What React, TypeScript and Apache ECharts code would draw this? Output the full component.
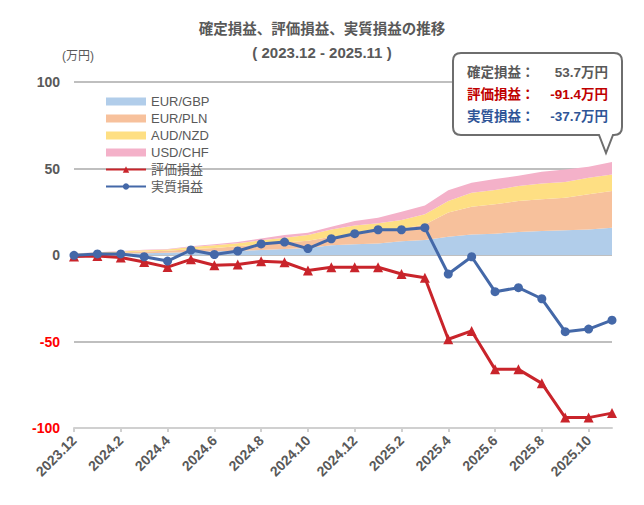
import {useEffect, useRef} from "react";
import * as echarts from "echarts";

const months = [
    "2023.12", "2024.1", "2024.2", "2024.3", "2024.4", "2024.5", "2024.6", "2024.7", "2024.8", "2024.9", "2024.10", "2024.11",
    "2024.12", "2025.1", "2025.2", "2025.3", "2025.4", "2025.5", "2025.6", "2025.7", "2025.8", "2025.9", "2025.10", "2025.11",
];

// 確定損益 (通貨ペア別, 積み上げ)
const eurGbp = [0.3, 0.5, 0.8, 1.0, 1.3, 1.7, 2.1, 2.5, 2.9, 3.4, 4.0, 5.6, 6.2, 6.7, 7.9, 8.7, 10.6, 11.8, 12.3, 13.3, 13.9, 14.3, 14.8, 15.8];
const eurPln = [0.2, 0.5, 0.7, 1.0, 1.2, 1.6, 2.0, 2.5, 3.2, 3.8, 4.2, 5.0, 5.7, 7.2, 7.3, 9.0, 13.9, 16.1, 17.0, 17.9, 18.3, 18.8, 20.3, 21.2];
const audNzd = [0.2, 0.4, 0.5, 0.7, 0.7, 1.3, 1.5, 1.8, 2.4, 2.8, 3.4, 4.2, 5.2, 4.4, 5.0, 5.8, 6.7, 8.1, 8.3, 8.7, 9.2, 9.1, 9.6, 9.6];
const usdChf = [0.1, 0.2, 0.3, 0.3, 0.3, 0.5, 0.6, 0.7, 1.1, 1.5, 1.2, 1.6, 2.5, 3.3, 4.8, 5.1, 6.2, 5.8, 6.3, 5.9, 6.7, 7.2, 6.3, 7.1];

const hyoka = [-0.8, -0.6, -1.5, -4.0, -7.0, -2.5, -5.9, -5.5, -3.6, -4.2, -9.0, -7.1, -7.1, -7.1, -11.0, -13.1, -48.7, -43.9, -66.1, -66.1, -74.2, -94.0, -94.0, -91.4];
const jisshitsu = [-0.2, 0.6, 0.6, -1.0, -3.5, 2.9, 0.3, 2.3, 6.4, 7.5, 3.7, 9.4, 12.3, 14.6, 14.6, 15.8, -11.0, -1.0, -21.2, -18.9, -25.3, -44.3, -42.8, -37.7];

const FONT = "'Liberation Sans', 'Noto Sans CJK JP', sans-serif";
const GRAY = "#595959";

const areas = [
    {name: "EUR/GBP", data: eurGbp, color: "#b1cdea"},
    {name: "EUR/PLN", data: eurPln, color: "#f7c19c"},
    {name: "AUD/NZD", data: audNzd, color: "#fedf83"},
    {name: "USD/CHF", data: usdChf, color: "#f4b1c9"},
];

echarts.graphic.registerShape("callout", echarts.graphic.extendPath(
    "M 461 53 H 614 Q 622 53 622 61 V 127 Q 622 135 614 135 H 613 L 606 153 L 599 135 H 461 Q 453 135 453 127 V 61 Q 453 53 461 53 Z",
    {}
));

const last = (arr: number[]) => arr[arr.length - 1];
const fmt = (v: number) => v.toFixed(1) + "万円";

export default function App() {
    const domRef = useRef<HTMLDivElement>(null);

    useEffect(() => {
        document.body.style.margin = "0";
        if (!domRef.current) return;
        const chart = echarts.init(domRef.current, null, {renderer: "svg"});

        const kakutei = areas.reduce((s, a) => s + last(a.data), 0);
        const boxLines = [
            {label: "確定損益：", value: fmt(kakutei), color: GRAY, y: 72},
            {label: "評価損益：", value: fmt(last(hyoka)), color: "#c00000", y: 94},
            {label: "実質損益：", value: fmt(last(jisshitsu)), color: "#2f5597", y: 116},
        ];

        chart.setOption({
            animation: false,
            textStyle: {fontFamily: FONT},
            title: {
                text: "確定損益、評価損益、実質損益の推移",
                subtext: "( 2023.12 - 2025.11 )",
                left: "center",
                top: 17,
                itemGap: 9,
                textStyle: {fontSize: 14.5, fontWeight: "bold", color: GRAY, fontFamily: FONT},
                subtextStyle: {fontSize: 15, fontWeight: "bold", color: GRAY, fontFamily: FONT},
            },
            legend: {
                orient: "vertical",
                left: 100,
                top: 90,
                itemWidth: 40,
                itemHeight: 8,
                itemGap: 4,
                textStyle: {fontSize: 13, color: GRAY, lineHeight: 13, fontFamily: FONT},
                data: [
                    ...areas.map(a => ({name: a.name, icon: "rect"})),
                    "評価損益",
                    "実質損益",
                ],
            },
            grid: {left: 74, right: 32, top: 82, bottom: 77},
            xAxis: [
                {
                    type: "category",
                    data: months,
                    boundaryGap: false,
                    axisLine: {show: false},
                    axisTick: {show: false},
                    axisLabel: {
                        interval: 1,
                        rotate: 45,
                        margin: 10,
                        fontSize: 14,
                        fontWeight: "bold",
                        color: GRAY,
                        fontFamily: FONT,
                    },
                },
                {
                    type: "category",
                    data: months,
                    boundaryGap: false,
                    position: "bottom",
                    axisLine: {show: true, onZero: true, lineStyle: {color: "#d0d0d0", width: 2}},
                    axisTick: {show: true, interval: 1, length: 4, lineStyle: {color: "#d0d0d0", width: 2}},
                    axisLabel: {show: false},
                },
            ],
            yAxis: {
                type: "value",
                min: -100,
                max: 100,
                interval: 50,
                name: "(万円)",
                nameLocation: "end",
                nameGap: 20,
                nameTextStyle: {fontSize: 12, color: GRAY, fontFamily: FONT, align: "left", padding: [0, 0, 0, -12]},
                axisLine: {show: false},
                axisTick: {show: false},
                axisLabel: {
                    margin: 14,
                    fontSize: 14,
                    fontWeight: "bold",
                    fontFamily: FONT,
                    color: (v: any) => (Number(v) < 0 ? "#ff0000" : GRAY),
                },
                splitLine: {lineStyle: {color: "#bfbfbf", width: 2}},
            },
            series: [
                ...areas.map(a => ({
                    name: a.name,
                    type: "line",
                    stack: "kakutei",
                    data: a.data,
                    symbol: "none",
                    lineStyle: {width: 0},
                    itemStyle: {color: a.color},
                    areaStyle: {color: a.color, opacity: 1},
                })),
                {
                    name: "評価損益",
                    type: "line",
                    data: hyoka,
                    symbol: "triangle",
                    symbolSize: 10,
                    itemStyle: {color: "#c9242b"},
                    lineStyle: {color: "#c9242b", width: 3},
                },
                {
                    name: "実質損益",
                    type: "line",
                    data: jisshitsu,
                    symbol: "circle",
                    symbolSize: 9,
                    itemStyle: {color: "#4468a8"},
                    lineStyle: {color: "#4468a8", width: 3},
                },
            ],
            graphic: [
                {
                    type: "callout",
                    x: 0,
                    y: 0,
                    z: 100,
                    style: {fill: "#ffffff", stroke: "#6e6e6e", lineWidth: 2},
                },
                ...boxLines.flatMap(l => [
                    {
                        type: "text",
                        x: 467,
                        y: l.y,
                        z: 101,
                        style: {text: l.label, fill: l.color, fontSize: 13.5, fontWeight: "bold", fontFamily: FONT, align: "left", verticalAlign: "middle"},
                    },
                    {
                        type: "text",
                        x: 608,
                        y: l.y,
                        z: 101,
                        style: {text: l.value, fill: l.color, fontSize: 13.5, fontWeight: "bold", fontFamily: FONT, align: "right", verticalAlign: "middle"},
                    },
                ]),
            ],
        });

        return () => {
            chart.dispose();
        };
    }, []);

    return <div ref={domRef} style={{width: 644, height: 505}} />;
}
